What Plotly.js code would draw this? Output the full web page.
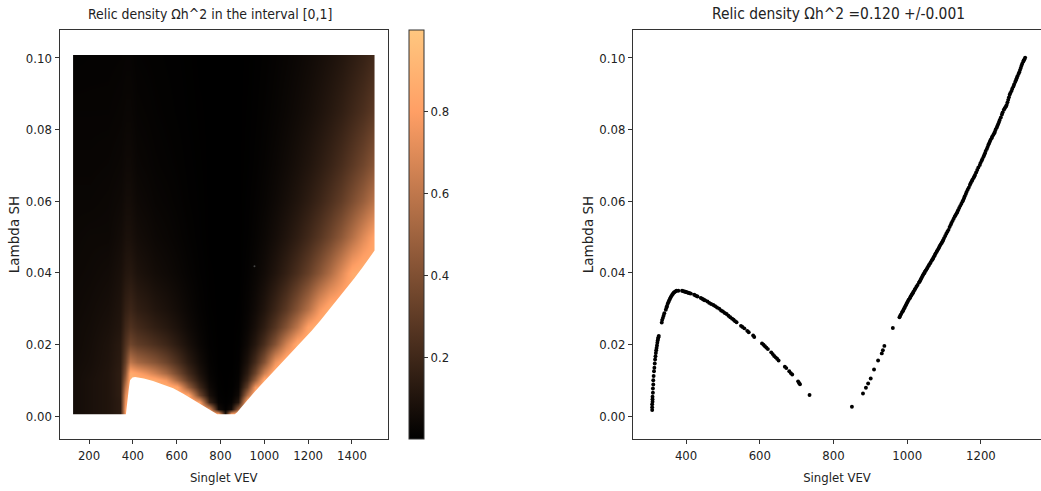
<!DOCTYPE html>
<html><head><meta charset="utf-8">
<script src="https://cdn.plot.ly/plotly-3.0.1.min.js"></script>
<style>html,body{margin:0;padding:0;background:#fff;overflow:hidden}</style></head>
<body><div id="chart" style="width:1041px;height:491px"></div>
<script>
// Left panel: estimated relic density, one list per singlet VEV column
const vevColumns = [127,200,280,340,365,385,420,460,500,550,600,650,700,750,790,820,850,880,920,960,1000,1050,1100,1150,1200,1250,1300,1350,1400,1450,1503];
const lambdaRows = [0.0005,0.002,0.004,0.006,0.008,0.01,0.012,0.015,0.02,0.025,0.03,0.04,0.05,0.06,0.07,0.085,0.1008];
const densityByColumn = [
[.06,.06,.06,.06,.06,.06,.06,.055,.05,.05,.045,.04,.035,.03,.025,.02,.012],
[.08,.08,.08,.08,.08,.08,.075,.07,.065,.06,.055,.045,.04,.03,.025,.02,.014],
[.1,.1,.1,.1,.1,.1,.1,.095,.09,.08,.07,.055,.04,.035,.028,.02,.015],
[.14,.14,.14,.15,.15,.15,.15,.14,.13,.11,.1,.08,.06,.045,.035,.025,.017],
[.8,.8,.75,.7,.6,.5,.42,.33,.25,.2,.16,.11,.08,.06,.045,.03,.02],
[.9,.9,.9,.9,.9,.9,.86,.6,.35,.25,.19,.12,.08,.06,.045,.03,.02],
[.9,.9,.9,.9,.9,.9,.81,.52,.3,.21,.15,.09,.06,.042,.03,.02,.013],
[.9,.9,.9,.9,.9,.9,.74,.47,.27,.18,.13,.075,.05,.035,.025,.017,.011],
[.9,.9,.9,.9,.9,.86,.65,.42,.235,.15,.105,.059,.038,.026,.019,.013,.009],
[.9,.9,.9,.9,.9,.76,.53,.34,.19,.12,.084,.047,.03,.021,.015,.01,.007],
[.9,.9,.9,.9,.83,.53,.37,.24,.133,.085,.059,.033,.021,.015,.011,.007,.005],
[.9,.9,.9,.84,.47,.3,.21,.134,.076,.048,.034,.019,.012,.008,.006,.004,.003],
[.9,.9,.81,.36,.2,.13,.09,.058,.032,.021,.014,.008,.005,.004,.003,.002,.001],
[.9,.72,.18,.08,.045,.029,.02,.013,.007,.005,.003,.002,.001,.001,.001,.001,.001],
[.9,.06,.016,.007,.004,.003,.002,.001,.001,.001,.001,.001,.001,.001,.001,.001,.001],
[.1,.01,.004,.002,.001,.001,.001,.001,.001,.001,.001,.001,.001,.001,.001,.001,.001],
[.85,.06,.016,.007,.004,.003,.002,.001,.001,.001,.001,.001,.001,.001,.001,.001,.001],
[.9,.49,.12,.054,.03,.02,.014,.009,.005,.003,.002,.001,.001,.001,.001,.001,.001],
[.9,.9,.9,.56,.32,.2,.14,.09,.05,.032,.022,.013,.008,.006,.004,.003,.002],
[.9,.9,.9,.9,.77,.49,.34,.22,.12,.078,.054,.031,.02,.014,.01,.007,.005],
[.9,.9,.9,.9,.9,.86,.65,.42,.235,.15,.105,.059,.038,.026,.019,.013,.009],
[.9,.9,.9,.9,.9,.9,.9,.75,.42,.27,.19,.106,.068,.047,.034,.023,.017],
[.9,.9,.9,.9,.9,.9,.9,.9,.66,.42,.29,.164,.105,.073,.053,.036,.026],
[.9,.9,.9,.9,.9,.9,.9,.9,.86,.6,.42,.235,.15,.104,.077,.052,.037],
[.9,.9,.9,.9,.9,.9,.9,.9,.9,.82,.57,.32,.206,.143,.105,.071,.051],
[.9,.9,.9,.9,.9,.9,.9,.9,.9,.9,.76,.43,.274,.19,.14,.095,.068],
[.9,.9,.9,.9,.9,.9,.9,.9,.9,.9,.88,.555,.355,.247,.181,.123,.087],
[.9,.9,.9,.9,.9,.9,.9,.9,.9,.9,.9,.7,.45,.31,.229,.155,.11],
[.9,.9,.9,.9,.9,.9,.9,.9,.9,.9,.9,.85,.57,.395,.29,.197,.14],
[.9,.9,.9,.9,.9,.9,.9,.9,.9,.9,.9,.9,.7,.483,.355,.24,.171],
[.9,.9,.9,.9,.9,.9,.9,.9,.9,.9,.9,.9,.82,.59,.435,.295,.21]
];
// Left panel: blank surround of the sampled region, as one outline with the region as a hole
const edgeVev = [65,65,1564.5,1564.5,65,127,127,368,369,372,378,382,387,398,410,450,492,540,584,630,675,730,776,785,865,876,900,922,950,981,1027,1060,1100,1140,1178,1216,1255,1294,1333,1372,1410,1447,1484,1503,1503,127,65];
const edgeLambda = [-.0064,.1078,.1078,-.0064,-.0064,.1008,.0005,.0005,.001,.003,.0053,.008,.010,.0108,.0109,.0105,.0098,.0088,.0078,.0062,.0045,.0025,.0008,.0005,.0005,.0011,.0028,.0045,.0064,.0085,.0115,.0137,.0162,.0187,.0212,.0238,.0266,.0295,.0324,.0354,.0384,.0414,.0444,.0462,.1008,.1008,-.0064];
const strayVev = [955];
const strayLambda = [.0418];
// Right panel: points with relic density 0.120 +/- 0.001
const pointVev = [308,308,308,309,309,309,310,310,311,311,312,313,314,315,316,317,318,319,320,321,322,323,324,325,326,334,335,337,339,341,345,347,348,350,352,354,356,358,360,362,364,366,368,371,374,379,389,392,395,398,401,404,407,410,413,422,425,429,431,440,443,446,449,452,458,463,468,474,479,484,490,495,500,505,510,515,520,525,529,533,537,549,553,558,566,570,582,585,606,610,614,618,622,631,635,639,643,647,651,668,672,680,684,688,704,707,709,735,
850,880,888,894,901,910,921,931,934,938,961,979,983,986,990,994,998,1002,1007,1011,1015,1020,1025,1032,1036,1040,1044,1048,1052,1057,1062,1067,1071,1075,1080,1085,1089,1094,1098,1103,1109,1118,1123,1129,1134,1138,1144,1150,1154,1159,1164,1170,1175,1180,1184,1190,1197,1202,1207,1211,1216,1220,1224,1229,1234,1238,1243,1247,1251,1257,1262,1266,1270,1274,1278,1283,1288,1293,1297,1302,1306,1310,1315,1318,1320,
981,988,992,996,1000,1004,1009,1013,1017,1022,1028,1034,1038,1042,1046,1050,1054,1059,1064,1069,1073,1077,1082,1087,1091,1096,1100,1106,1112,1115,1120,1126,1131,1136,1141,1147,1152,1156,1161,1167,1172,1177,1182,1187,1193,1199,1204,1209,1213,1218,1222,1226,1231,1236,1240,1245,1249,1254,1259,1264,1268,1272,1276,1280,1285,1290,1295,1299,1304,1308,1312,1316];
const pointLambda = [.0017,.0025,.0033,.004,.0047,.0054,.0065,.0077,.0088,.01,.0112,.0125,.0135,.0147,.0158,.0167,.0176,.0184,.019,.0197,.0205,.0211,.0216,.022,.0224,.0261,.0268,.0274,.028,.0287,.0297,.0303,.0307,.0313,.0318,.0323,.0327,.0331,.0335,.0338,.0341,.0344,.0346,.0348,.035,.035,.035,.0349,.0348,.0347,.0346,.0345,.0344,.0343,.0342,.0339,.0337,.0335,.0334,.033,.0328,.0326,.0324,.0323,.032,.0316,.0313,.031,.0307,.0303,.03,.0295,.0292,.0288,.0285,.028,.0276,.0272,.0269,.0265,.0262,.0252,.0249,.0245,.0238,.0234,.0225,.0221,.0203,.0199,.0195,.0191,.0187,.0178,.0173,.0168,.0164,.016,.0155,.0138,.0134,.0125,.012,.0116,.0097,.0092,.0089,.0059,
.0026,.0063,.0079,.0091,.0105,.013,.0155,.0175,.0184,.0196,.0246,.0276,.0284,.029,.0297,.0305,.0313,.0321,.0329,.0337,.0343,.0352,.0361,.0373,.038,.0388,.0396,.0403,.0409,.0418,.0426,.0435,.0442,.045,.0459,.0468,.0476,.0484,.0492,.0503,.0515,.0534,.0545,.0557,.0566,.0575,.0587,.0599,.0608,.062,.0632,.0645,.0656,.0665,.0673,.0687,.0701,.0713,.0724,.0734,.0746,.0757,.0766,.0776,.0786,.0794,.0806,.0816,.0827,.0842,.0855,.0862,.0869,.0883,.0897,.0908,.092,.0933,.0943,.0955,.0966,.0978,.099,.0996,.1001,
.0280,.0293,.0301,.0309,.0317,.0325,.0333,.0340,.0347,.0356,.0366,.0376,.0384,.0392,.0399,.0406,.0413,.0422,.0430,.0438,.0446,.0454,.0463,.0472,.0480,.0488,.0497,.0509,.0520,.0528,.0539,.0551,.0561,.0570,.0581,.0593,.0603,.0614,.0626,.0638,.0650,.0660,.0669,.0680,.0694,.0707,.0718,.0729,.0740,.0751,.0761,.0771,.0781,.0790,.0800,.0811,.0821,.0834,.0848,.0858,.0865,.0876,.0890,.0902,.0914,.0926,.0938,.0949,.0960,.0972,.0984,.0993];
const leftTicksX = [200,400,600,800,1000,1200,1400];
const rightTicksX = [400,600,800,1000,1200];
const ticksY = [0,.02,.04,.06,.08,.10];
const ticksYText = ['0.00','0.02','0.04','0.06','0.08','0.10'];
const colorbarTicks = [.2,.4,.6,.8];
const copper = [[0,'rgb(0,0,0)'],[0.8,'rgb(255,159,101)'],[1,'rgb(255,199,127)']];

const W=1041,H=491,top_=30,bottom_=439;
const cond='"DejaVu Sans Condensed","DejaVu Sans",sans-serif';
const font={family:cond,size:13,color:'#222'};
const yTitleFont={family:'"DejaVu Sans",sans-serif',size:13.5,color:'#222'};
const xTitleFont={family:cond,size:13,color:'#222'};
const axis={showgrid:false,zeroline:false,showline:true,mirror:true,linecolor:'#333',linewidth:1,ticks:'outside',ticklen:4,tickcolor:'#333',tickwidth:1,tickfont:font};
const yDomain=[(H-bottom_)/H,(H-top_)/H];
const traces=[
 {type:'heatmap',x:vevColumns,y:lambdaRows,z:densityByColumn,transpose:true,zsmooth:'best',colorscale:copper,zmin:0,zmax:1,xaxis:'x',yaxis:'y',hoverinfo:'skip',
  colorbar:{xref:'paper',yref:'paper',x:409/W,xanchor:'left',y:yDomain[0],yanchor:'bottom',len:yDomain[1]-yDomain[0],lenmode:'fraction',thickness:15,thicknessmode:'pixels',xpad:0,ypad:0,outlinecolor:'#333',outlinewidth:1,tickmode:'array',tickvals:colorbarTicks,ticktext:['0.2','0.4','0.6','0.8'],ticks:'outside',ticklen:4,tickcolor:'#333',tickfont:font}},
 {type:'scatter',mode:'lines',x:edgeVev,y:edgeLambda,fill:'toself',fillcolor:'#fff',line:{width:0,color:'#fff'},xaxis:'x',yaxis:'y',hoverinfo:'skip',showlegend:false},
 {type:'scatter',mode:'markers',x:strayVev,y:strayLambda,marker:{size:2,color:'#444'},xaxis:'x',yaxis:'y',hoverinfo:'skip',showlegend:false},
 {type:'scatter',mode:'markers',x:pointVev,y:pointLambda,marker:{size:3.9,color:'#000',line:{width:0}},xaxis:'x2',yaxis:'y2',showlegend:false}
];
const layout={width:W,height:H,margin:{l:0,r:0,t:0,b:0},paper_bgcolor:'#fff',plot_bgcolor:'#fff',showlegend:false,font:font,
 xaxis:{...axis,domain:[59.5/W,388/W],range:[65,1564.5],tickmode:'array',tickvals:leftTicksX,ticktext:leftTicksX.map(String),anchor:'y',title:{text:'Singlet VEV',font:xTitleFont,standoff:11}},
 yaxis:{...axis,domain:yDomain,range:[-0.0064,0.1078],tickmode:'array',tickvals:ticksY,ticktext:ticksYText,anchor:'x',title:{text:'Lambda SH',font:yTitleFont,standoff:3}},
 xaxis2:{...axis,domain:[633/W,1],range:[256,1363],tickmode:'array',tickvals:rightTicksX,ticktext:rightTicksX.map(String),anchor:'y2',title:{text:'Singlet VEV',font:xTitleFont,standoff:11}},
 yaxis2:{...axis,domain:yDomain,range:[-0.0064,0.1078],tickmode:'array',tickvals:ticksY,ticktext:ticksYText,anchor:'x2',title:{text:'Lambda SH',font:yTitleFont,standoff:2}},
 annotations:[
  {xref:'paper',yref:'paper',x:209.5/W,y:(H-14)/H,xanchor:'center',yanchor:'middle',showarrow:false,text:'Relic density Ωh^2 in the interval [0,1]',font:{family:cond,size:13.9,color:'#222'}},
  {xref:'paper',yref:'paper',x:838.5/W,y:(H-14)/H,xanchor:'center',yanchor:'middle',showarrow:false,text:'Relic density Ωh^2 =0.120 +/-0.001',font:{family:cond,size:15.4,color:'#222'}}
 ]};
Plotly.newPlot('chart',traces,layout,{displayModeBar:false,staticPlot:true});
</script></body></html>
